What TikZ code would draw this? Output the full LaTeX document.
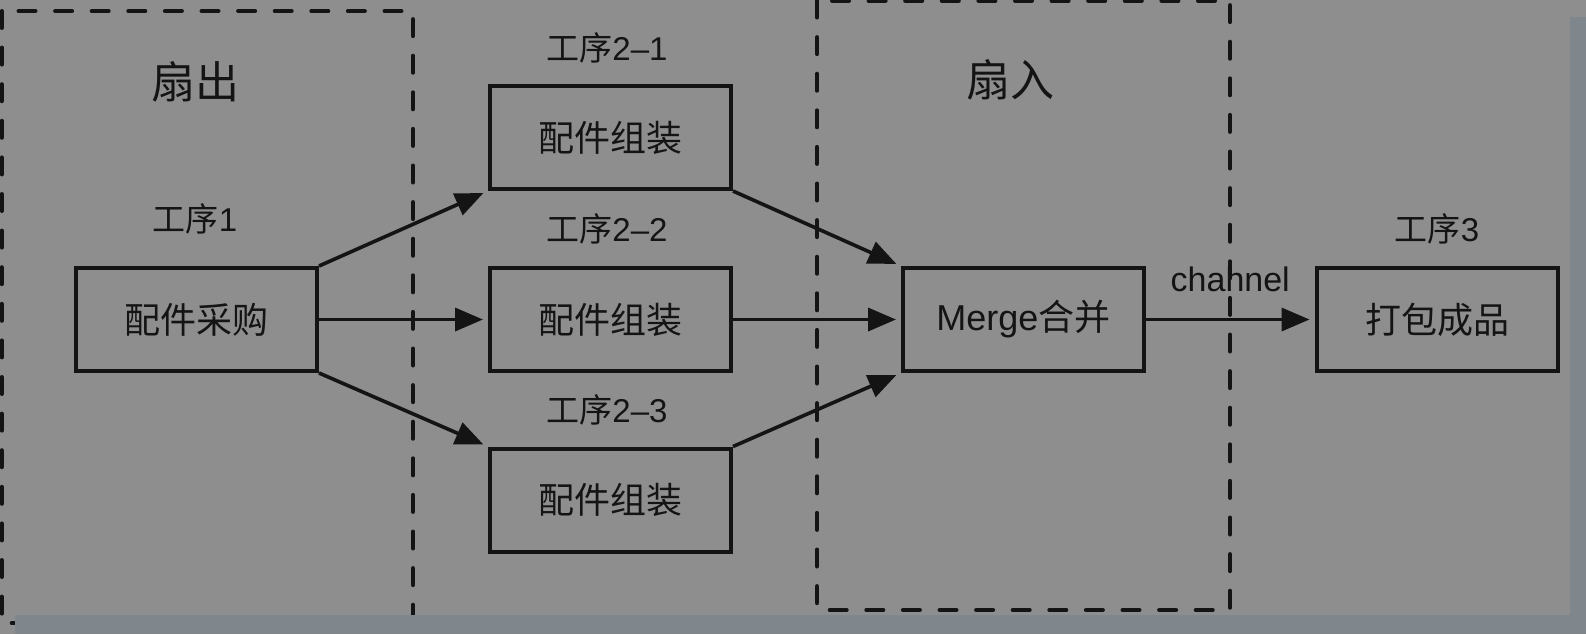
\documentclass[tikz,border=0pt]{standalone}
\usepackage{fontspec}
\setmainfont{Liberation Sans}
\newfontfamily\cjk{Noto Sans CJK SC}
\usetikzlibrary{arrows.meta}
\definecolor{bg}{RGB}{142,142,142}
\definecolor{stripc}{RGB}{127,134,140}
\definecolor{ink}{RGB}{20,20,20}
\begin{document}
\begin{tikzpicture}[x=0.5pt,y=-0.5pt,
 stepbox/.style={draw=ink, line width=2pt, minimum width=120.5pt, minimum height=51.5pt, inner sep=0pt, text=ink, font=\fontsize{18pt}{20pt}\selectfont},
 steplabel/.style={text=ink, inner sep=0pt, font=\fontsize{16.5pt}{18pt}\selectfont},
 zone/.style={draw=ink, line width=2pt, dash pattern=on 8.5pt off 9.8pt, line cap=round},
 zonelabel/.style={text=ink, inner sep=0pt, font=\fontsize{22pt}{24pt}\selectfont\cjk},
 flow/.style={draw=ink, line width=1.8pt, -{Triangle[length=14pt,width=11.5pt]}, shorten >=2.5pt},
 chan/.style={text=ink, inner sep=0pt, font=\fontsize{17pt}{19pt}\selectfont}]
\useasboundingbox (0,0) rectangle (1586,634);
\fill[bg] (0,0) rectangle (1586,634);
% zones
\draw[zone] (1.5,11) rectangle (413,623);
\draw[zone] (817,0.5) rectangle (1230,610);
% shadow strip
\fill[stripc] (1570,17) rectangle (1586,634);
\fill[stripc] (15,615) rectangle (1586,634);
% zone labels
\node[zonelabel] (fo) at (195,82) {扇出};
\node[zonelabel] (fi) at (1010,80) {扇入};
% boxes
\node[stepbox] (a) at (196.5,319.5) {\cjk 配件采购};
\node[stepbox] (b1) at (610.5,137.5) {\cjk 配件组装};
\node[stepbox] (b2) at (610.5,319.5) {\cjk 配件组装};
\node[stepbox] (b3) at (610.5,500) {\cjk 配件组装};
\node[stepbox] (m) at (1023.5,319.5) {Merge{\cjk 合并}};
\node[stepbox] (c) at (1437,319.5) {\cjk 打包成品};
% step labels
\node[steplabel] (la) at (195,219) {{\cjk 工序}1};
\node[steplabel] (lb1) at (607,48) {{\cjk 工序}2–1};
\node[steplabel] (lb2) at (607,229) {{\cjk 工序}2–2};
\node[steplabel] (lb3) at (607,410) {{\cjk 工序}2–3};
\node[steplabel] (lc) at (1437,229) {{\cjk 工序}3};
% connectors
\draw[flow] (a.north east) -- (b1.south west);
\draw[flow] (a.east) -- (b2.west);
\draw[flow] (a.south east) -- (b3.north west);
\draw[flow] (b1.south east) -- (m.north west);
\draw[flow] (b2.east) -- (m.west);
\draw[flow] (b3.north east) -- (m.south west);
\draw[flow] (m.east) -- node[chan, midway, above=13pt] (ch) {chahnel} (c.west);
\end{tikzpicture}
\end{document}
